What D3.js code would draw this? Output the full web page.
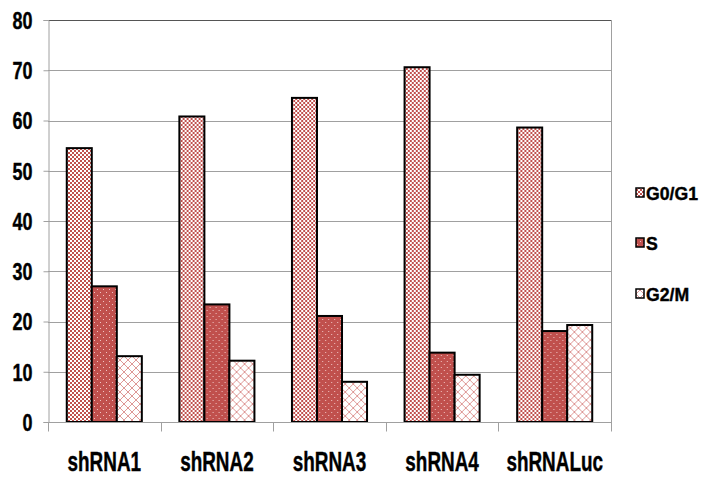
<!DOCTYPE html>
<html>
<head>
<meta charset="utf-8">
<script src="https://cdn.jsdelivr.net/npm/d3@7"></script>
<style>
  html, body { margin: 0; padding: 0; background: #fff; }
  svg { display: block; }
  text { font-family: "Liberation Sans", Arial, sans-serif; font-weight: bold; fill: #000; stroke: #000; stroke-width: 0.4px; }
</style>
</head>
<body>
<svg id="chart" width="704" height="477"></svg>
<script>
// Cell-cycle distribution (%) per construct
const categories = ["shRNA1", "shRNA2", "shRNA3", "shRNA4", "shRNALuc"];
const seriesNames = ["G0/G1", "S", "G2/M"];
const g0g1 = [54.5, 60.8, 64.5, 70.6, 58.6];
const sPhase = [27.0, 23.4, 21.1, 13.8, 18.1];
const g2m = [13.1, 12.2, 8.0, 9.4, 19.3];
const yTicks = [0, 10, 20, 30, 40, 50, 60, 70, 80];

const seriesValues = [g0g1, sPhase, g2m];
const RED = "#C0504D";

const svg = d3.select("#chart");
const plot = { left: 48, right: 611, top: 20, bottom: 422 };

// Fill patterns: fine checker, dotted solid, diagonal lattice
const defs = svg.append("defs");
const pChecker = defs.append("pattern").attr("id", "pat0")
  .attr("patternUnits", "userSpaceOnUse").attr("width", 4).attr("height", 4);
pChecker.append("rect").attr("width", 4).attr("height", 4).attr("fill", "#fff");
pChecker.append("rect").attr("x", 0).attr("y", 0).attr("width", 2).attr("height", 2).attr("fill", RED);
pChecker.append("rect").attr("x", 2).attr("y", 2).attr("width", 2).attr("height", 2).attr("fill", RED);

const pDots = defs.append("pattern").attr("id", "pat1")
  .attr("patternUnits", "userSpaceOnUse").attr("width", 6).attr("height", 6);
pDots.append("rect").attr("width", 6).attr("height", 6).attr("fill", RED);
pDots.append("rect").attr("x", 1).attr("y", 1).attr("width", 1).attr("height", 1).attr("fill", "#f0c4c3");
pDots.append("rect").attr("x", 4).attr("y", 4).attr("width", 1).attr("height", 1).attr("fill", "#f0c4c3");

const pLattice = defs.append("pattern").attr("id", "pat2")
  .attr("patternUnits", "userSpaceOnUse").attr("width", 8).attr("height", 8);
pLattice.append("rect").attr("width", 8).attr("height", 8).attr("fill", "#fff");
pLattice.append("path").attr("d", "M0,0 L8,8 M8,0 L0,8 M-1,7 L1,9 M7,-1 L9,1 M-1,1 L1,-1 M7,9 L9,7")
  .attr("stroke", "#de9896").attr("stroke-width", 1).attr("fill", "none");

const fills = ["url(#pat0)", "url(#pat1)", "url(#pat2)"];

// Scales
const x = d3.scaleBand().domain(categories).range([plot.left, plot.right]).padding(0);
const y = d3.scaleLinear().domain([0, 80]).range([plot.bottom, plot.top]);
const barW = x.bandwidth() / 4.5;          // gap width 150%
const xs = d3.scaleBand().domain(seriesNames)
  .range([barW * 0.75, barW * 3.75]).padding(0);

// Gridlines
svg.append("g").selectAll("line").data(yTicks.filter(t => t > 0)).join("line")
  .attr("x1", plot.left).attr("x2", plot.right)
  .attr("y1", d => Math.round(y(d)) + 0.5).attr("y2", d => Math.round(y(d)) + 0.5)
  .attr("stroke", d => d === 80 ? "#555" : "#a0a0a0").attr("stroke-width", 1);

// Right border of plot area
svg.append("line")
  .attr("x1", plot.right + 0.5).attr("x2", plot.right + 0.5)
  .attr("y1", plot.top).attr("y2", plot.bottom)
  .attr("stroke", "#a0a0a0");

// Y axis
const yAxis = svg.append("g").attr("transform", `translate(${plot.left + 0.5},0)`)
  .call(d3.axisLeft(y).tickValues(yTicks).tickSize(5).tickPadding(11).tickFormat(d3.format("d")));
yAxis.select(".domain").attr("stroke", "#a0a0a0");
yAxis.selectAll(".tick line").attr("stroke", "#a0a0a0");
yAxis.selectAll("text").attr("font-size", 23).attr("font-family", null).attr("fill", "#000")
  .attr("dy", "0.36em")
  .each(function () {
    const w = this.getComputedTextLength();
    d3.select(this).attr("textLength", w * 0.78).attr("lengthAdjust", "spacingAndGlyphs");
  });

// Bars
const groups = svg.append("g").selectAll("g").data(categories).join("g")
  .attr("transform", d => `translate(${x(d)},0)`);
groups.selectAll("rect")
  .data((c, i) => seriesNames.map((s, j) => ({ s, j, v: seriesValues[j][i] })))
  .join("rect")
  .attr("x", d => xs(d.s))
  .attr("width", xs.bandwidth())
  .attr("y", d => y(d.v))
  .attr("height", d => y(0) - y(d.v))
  .attr("fill", d => fills[d.j])
  .attr("stroke", "#000").attr("stroke-width", 2);

// X axis
const xAxis = svg.append("g").attr("transform", `translate(0,${plot.bottom + 0.5})`);
xAxis.append("line").attr("x1", plot.left).attr("x2", plot.right + 1)
  .attr("stroke", "#a0a0a0");
const bounds = categories.map(c => x(c)).concat([plot.right]);
xAxis.selectAll("line.tk").data(bounds).join("line").attr("class", "tk")
  .attr("x1", d => Math.round(d) + 0.5).attr("x2", d => Math.round(d) + 0.5)
  .attr("y1", 0).attr("y2", 9).attr("stroke", "#a0a0a0");
xAxis.selectAll("text").data(categories).join("text")
  .attr("x", d => x(d) + x.bandwidth() / 2)
  .attr("y", 48)
  .attr("text-anchor", "middle")
  .attr("font-size", 27)
  .text(d => d)
  .each(function () {
    const w = this.getComputedTextLength();
    d3.select(this).attr("textLength", w * 0.7).attr("lengthAdjust", "spacingAndGlyphs");
  });

// Legend
const legendY = [193, 243, 294];
const legend = svg.append("g").selectAll("g").data(seriesNames).join("g")
  .attr("transform", (d, i) => `translate(636,${legendY[i]})`);
legend.append("rect").attr("x", 0).attr("y", -5).attr("width", 8).attr("height", 9)
  .attr("fill", (d, i) => fills[i]).attr("stroke", "#000").attr("stroke-width", 1.5);
legend.append("text").attr("x", 10).attr("y", 0).attr("dy", "0.36em")
  .attr("font-size", 19)
  .text(d => d)
  .each(function () {
    const w = this.getComputedTextLength();
    d3.select(this).attr("textLength", w * 0.93).attr("lengthAdjust", "spacingAndGlyphs");
  });
</script>
</body>
</html>
